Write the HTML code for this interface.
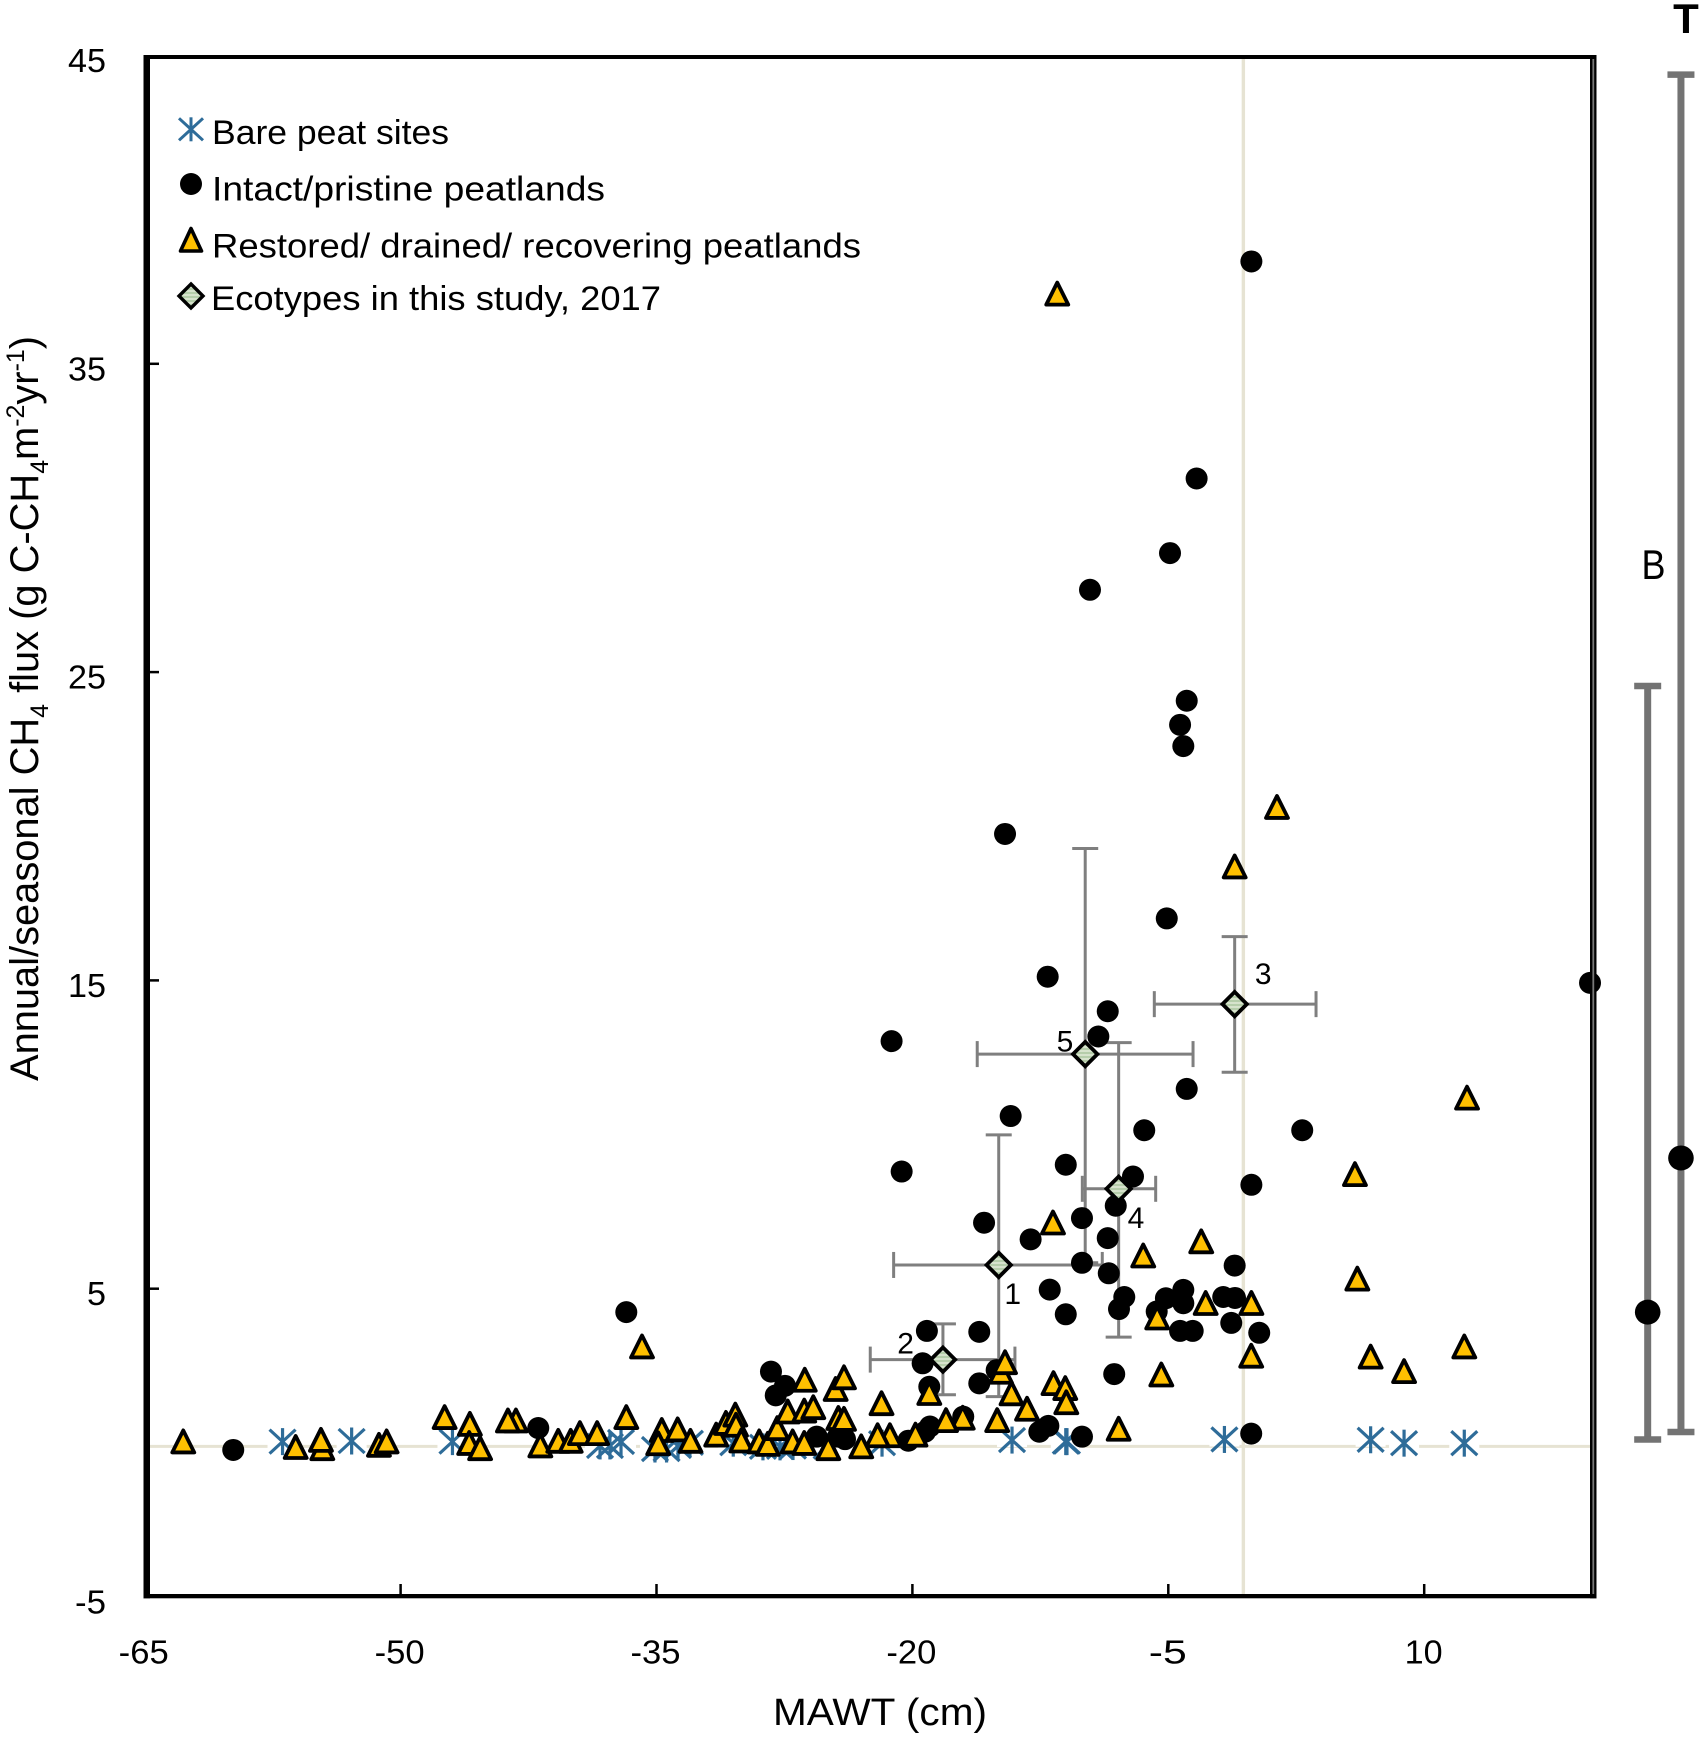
<!DOCTYPE html>
<html lang="en">
<head>
<meta charset="utf-8">
<title>CH4 flux vs MAWT</title>
<style>
html,body{margin:0;padding:0;background:#fff;}
svg{display:block;}
text{font-family:"Liberation Sans",sans-serif;fill:#000;}
</style>
</head>
<body>
<svg id="chart" xmlns="http://www.w3.org/2000/svg" width="1703" height="1739" viewBox="0 0 1703 1739">
  <defs>
    <pattern id="stripes" width="4" height="4" patternUnits="userSpaceOnUse">
      <rect width="4" height="4" fill="#d6e3cc"/>
      <rect width="4" height="2" fill="#b5cdaa"/>
    </pattern>
  </defs>
  <rect width="1703" height="1739" fill="#fff"/>
  <g id="guides"></g>
  <g id="stars"></g>
  <g id="errors"></g>
  <g id="circles"></g>
  <g id="triangles"></g>
  <g id="diamonds"></g>
  <g id="frame">
    <rect x="143.5" y="55" width="1453" height="4" fill="#000"/>
    <rect x="143.5" y="55" width="6.5" height="1543.3" fill="#000"/>
    <rect x="143.5" y="1594" width="1453" height="4.3" fill="#000"/>
    <rect x="1590" y="55" width="6.5" height="1543.3" fill="#000"/>
    <rect x="1592.4" y="59" width="1.8" height="1535" fill="#777"/>
  </g>
  <g id="xticks"></g>
  <g id="yticks"></g>
  <text x="773" y="1725" font-size="38" textLength="214" lengthAdjust="spacingAndGlyphs">MAWT (cm)</text>
  <text transform="translate(37.8,1081) rotate(-90)" font-size="40" textLength="745" lengthAdjust="spacingAndGlyphs">Annual/seasonal CH<tspan font-size="25" dy="10">4</tspan><tspan dy="-10"> flux (g C-CH</tspan><tspan font-size="25" dy="10">4</tspan><tspan dy="-10">m</tspan><tspan font-size="25" dy="-14">-2</tspan><tspan dy="14">yr</tspan><tspan font-size="25" dy="-14">-1</tspan><tspan dy="14">)</tspan></text>
  <g id="legend">
    <g>
      <g stroke="#2e6c99" stroke-width="3" fill="none" transform="translate(191,129.3)">
        <line x1="-12" y1="-11" x2="12" y2="11"/><line x1="-12" y1="11" x2="12" y2="-11"/><line x1="0" y1="-12" x2="0" y2="12"/>
      </g>
      <text x="212" y="144" font-size="34" textLength="237" lengthAdjust="spacingAndGlyphs">Bare peat sites</text>
    </g>
    <g>
      <circle cx="191" cy="184" r="11" fill="#000"/>
      <text x="212" y="200.7" font-size="34" textLength="393" lengthAdjust="spacingAndGlyphs">Intact/pristine peatlands</text>
    </g>
    <g>
      <polygon points="191,228.5 201.5,251 180.5,251" fill="#ffc000" stroke="#000" stroke-width="3.6" stroke-linejoin="round"/>
      <text x="212" y="257.3" font-size="34" textLength="649" lengthAdjust="spacingAndGlyphs">Restored/ drained/ recovering peatlands</text>
    </g>
    <g>
      <polygon points="191,284 203,296 191,308 179,296" fill="url(#stripes)" stroke="#000" stroke-width="3.4"/>
      <text x="211" y="310" font-size="34" textLength="450" lengthAdjust="spacingAndGlyphs">Ecotypes in this study, 2017</text>
    </g>
  </g>
  <g id="side"></g>
  <text x="1686" y="33" font-size="42" font-weight="bold" text-anchor="middle">T</text>
  <text x="1641.5" y="579" font-size="42" textLength="24" lengthAdjust="spacingAndGlyphs">B</text>
</svg>
<script>
const xTicks = [-65, -50, -35, -20, -5, 10];
const yTicks = [45, 35, 25, 15, 5, -5];
const zeroLineValue = -0.115;
const verticalLineValue = -0.6;

const bareX = [-56.92,-52.87,-46.96,-38.31,-37.73,-37.08,-35.09,-34.41,-33.74,-33.04,-30.50,-28.76,-27.76,-27.0,-25.03,-21.78,-14.16,-11.01,-10.94,-1.71,6.86,8.82,12.35];
const bareY = [0.04,0.06,0.04,-0.10,-0.10,0.03,-0.20,-0.20,-0.10,0,-0.01,-0.13,-0.13,-0.12,-0.12,-0.01,0.09,0.04,0.04,0.11,0.10,-0.01,-0.01];

const intactX = [-0.13,-3.34,-4.90,-9.59,-3.92,-4.31,-4.12,-14.57,-5.09,-12.07,-8.55,-21.22,-9.10,-3.92,-14.24,-6.41,2.85,-11.01,-20.63,-0.13,-7.07,-8.08,-15.80,-10.06,-13.07,-8.55,-10.06,-8.49,-1.11,-11.95,-7.58,-7.89,-11.01,-5.14,-4.12,-4.12,-5.68,-1.78,-1.09,-1.31,-4.31,-3.57,0.33,-19.15,-16.08,-19.40,-19.01,-16.08,-15.06,-8.17,-0.14,-10.06,-12.56,-12.03,-17.02,-18.97,-19.26,-20.24,-36.77,-28.29,-27.47,-28.01,-25.61,-24.36,-23.95,-59.81,-41.93,19.72];
const intactY = [38.32,31.28,28.86,27.67,24.07,23.29,22.60,19.75,17.01,15.12,14.00,13.03,13.18,11.48,10.60,10.14,10.14,9.02,8.80,8.37,8.64,7.69,7.14,7.29,6.60,6.64,5.84,5.50,5.75,4.97,4.73,4.34,4.17,4.69,4.96,4.53,4.26,4.73,4.70,3.89,3.63,3.63,3.57,3.63,3.60,2.58,1.82,1.93,2.36,2.23,0.30,0.20,0.36,0.55,0.85,0.53,0.36,0.07,4.24,2.31,1.85,1.54,0.20,0.20,0.12,-0.23,0.48,14.92];

const restoredX = [-11.51,1.37,-1.11,-11.76,-6.47,-3.07,-2.81,-0.13,-5.65,-0.14,-5.41,-14.81,-14.57,-11.73,-11.04,-10.98,-14.19,-13.28,-15.03,-7.91,-17.05,-18.03,-19.01,-21.81,-19.82,-21.32,-22.04,-23.00,12.51,5.94,6.08,6.86,8.82,12.35,-35.85,-36.77,-34.69,-33.76,-34.90,-33.01,-31.50,-30.93,-30.38,-30.34,-30.03,-28.98,-28.48,-27.92,-27.31,-26.34,-25.81,-26.31,-24.50,-24.01,-24.34,-24.01,-27.02,-26.34,-24.93,-62.74,-56.15,-54.59,-54.67,-51.27,-50.82,-47.42,-45.94,-45.98,-45.34,-43.24,-43.71,-41.81,-40.76,-40.03,-39.49,-38.48];
const restoredY = [37.27,20.62,18.69,7.14,6.07,6.53,4.53,4.53,4.06,2.82,2.21,2.30,2.61,1.93,1.77,1.31,1.60,1.10,0.73,0.45,0.81,0.73,1.61,1.28,0.26,0.24,0.24,-0.12,11.19,8.71,5.32,2.79,2.32,3.12,3.12,0.83,0.41,0.43,-0.02,0.06,0.26,0.64,0.91,0.58,0.07,0.04,-0.04,0.47,1.01,1.04,1.15,2.04,1.74,2.12,0.80,0.77,0.04,-0.01,-0.18,0.04,-0.14,-0.18,0.09,-0.07,0.04,0.83,0.61,-0.01,-0.18,0.72,0.72,-0.09,0.06,0.06,0.31,0.31];

const ecoLabels = ['1','2','3','4','5'];
const ecoX = [-14.94,-18.21,-1.11,-7.91,-9.87];
const ecoY = [5.77,2.70,14.23,8.24,12.61];
const ecoXLow = [-21.10,-22.47,-5.82,-10.04,-16.20];
const ecoXHigh = [-8.87,-13.99,3.66,-5.74,-3.55];
const ecoYLow = [1.50,1.56,12.02,3.43,5.84];
const ecoYHigh = [9.99,3.86,16.42,12.98,19.28];

const sideNames = ['bare','total'];
const sideX = [23.10,25.05];
const sideMean = [4.24,9.24];
const sideLow = [0.11,0.35];
const sideHigh = [24.55,44.38];

const NS = 'http://www.w3.org/2000/svg';
const sx = v => 144.7 + (v + 65) * 17.06;
const sy = v => 1288.7 + (5 - v) * 30.83;

function mk(tag, parent, attrs) {
  const el = document.createElementNS(NS, tag);
  for (const k in attrs) el.setAttribute(k, attrs[k]);
  parent.appendChild(el);
  return el;
}
const $ = id => document.getElementById(id);

/* reference lines */
{
  const h = mk('line', $('guides'), {x1:150, x2:1590, y1:sy(zeroLineValue), y2:sy(zeroLineValue), stroke:'#e6e3d3', 'stroke-width':3});
  
  
  const v = mk('line', $('guides'), {x1:sx(verticalLineValue), x2:sx(verticalLineValue), y1:59, y2:1594, stroke:'#e6e3d3', 'stroke-width':3.4});
  
  
}

/* x axis */
xTicks.forEach((t) => {
  if (t !== -65) {
    const tk = mk('line', $('xticks'), {x1:sx(t), x2:sx(t), y1:1584, y2:1594, stroke:'#000', 'stroke-width':2.5});
    
    
  }
  const s = String(t);
  const lab = mk('text', $('xticks'), {x:sx(t) - (s.length === 3 ? 25.5 : 19) - 0.5, y:1663.3, 'font-size':33, textLength:(s.length === 3 ? 50 : 38), lengthAdjust:'spacingAndGlyphs'});
  
  
  lab.textContent = s;
});

/* y axis */
yTicks.forEach((t) => {
  if (t !== -5 && t !== 45) {
    const tk = mk('line', $('yticks'), {x1:150, x2:159, y1:sy(t), y2:sy(t), stroke:'#000', 'stroke-width':2.5});
    
    
  }
  const s = String(t);
  const w = s.length === 1 ? 19 : (t < 0 ? 31 : 38);
  const lab = mk('text', $('yticks'), {x:106 - w, y:sy(t) + 16.5, 'font-size':33, textLength:w, lengthAdjust:'spacingAndGlyphs'});
  
  
  lab.textContent = s;
});

/* bare peat stars: white knock-outs first, then strokes */
bareX.forEach((x, i) => {
  const r = mk('rect', $('stars'), {x:sx(x) - 15, y:sy(bareY[i]) - 7, width:30, height:14, fill:'#fff'});
  
  
});
bareX.forEach((x, i) => {
  const g = mk('g', $('stars'), {transform:`translate(${sx(x)},${sy(bareY[i])})`, stroke:'#2e6c99', 'stroke-width':3.2, fill:'none'});
  
  
  mk('line', g, {x1:-13, y1:-12, x2:13, y2:12});
  mk('line', g, {x1:-13, y1:12, x2:13, y2:-12});
  mk('line', g, {x1:0, y1:-13.5, x2:0, y2:13.5});
});

/* ecotype error bars */
function errorCross(parent, x, y, xl, xh, yl, yh) {
  const st = {stroke:'#7f7f7f', 'stroke-width':3, fill:'none'};
  const capV = 13, capH = 13;
  const px = sx(x), py = sy(y), pxl = sx(xl), pxh = sx(xh), pyl = sy(yl), pyh = sy(yh);
  mk('line', parent, {x1:pxl, x2:pxh, y1:py, y2:py, ...st});
  mk('line', parent, {x1:pxl, x2:pxl, y1:py - capH, y2:py + capH, ...st});
  mk('line', parent, {x1:pxh, x2:pxh, y1:py - capH, y2:py + capH, ...st});
  mk('line', parent, {x1:px, x2:px, y1:pyl, y2:pyh, ...st});
  mk('line', parent, {x1:px - capV, x2:px + capV, y1:pyl, y2:pyl, ...st});
  mk('line', parent, {x1:px - capV, x2:px + capV, y1:pyh, y2:pyh, ...st});
}
ecoX.forEach((x, i) => {
  const g = mk('g', $('errors'), {});
  
  
  errorCross(g, x, ecoY[i], ecoXLow[i], ecoXHigh[i], ecoYLow[i], ecoYHigh[i]);
});

/* intact circles */
intactX.forEach((x, i) => {
  const c = mk('circle', $('circles'), {cx:sx(x), cy:sy(intactY[i]), r:11, fill:'#000'});
  
  
});

/* restored triangles */
restoredX.forEach((x, i) => {
  const px = sx(x), py = sy(restoredY[i]);
  const t = mk('polygon', $('triangles'), {points:`${px},${py - 11.2} ${px + 11},${py + 10.8} ${px - 11},${py + 10.8}`, fill:'#ffc000', stroke:'#000', 'stroke-width':3.8, 'stroke-linejoin':'round'});
  
  
});

/* ecotype diamonds and number labels */
const ecoLabelOffsetDx = [14, -37.3, 28.6, 17.3, -20.3];
const ecoLabelOffsetDy = [39, -6, -20, 39, -2.6];
ecoX.forEach((x, i) => {
  const px = sx(x), py = sy(ecoY[i]);
  const d = mk('polygon', $('diamonds'), {points:`${px},${py - 12.2} ${px + 12.2},${py} ${px},${py + 12.2} ${px - 12.2},${py}`, fill:'url(#stripes)', stroke:'#000', 'stroke-width':3.8});
  
  
  const l = mk('text', $('diamonds'), {x:px + ecoLabelOffsetDx[i], y:py + ecoLabelOffsetDy[i], 'font-size':30, 'text-anchor':'middle'});
  
  
  l.textContent = ecoLabels[i];
});

/* side range bars */
sideNames.forEach((n, i) => {
  const g = mk('g', $('side'), {});
  
  
  const px = sx(sideX[i]), lo = sy(sideLow[i]), hi = sy(sideHigh[i]);
  mk('line', g, {x1:px, x2:px, y1:hi, y2:lo, stroke:'#737373', 'stroke-width':7});
  mk('line', g, {x1:px - 13.5, x2:px + 13.5, y1:hi, y2:hi, stroke:'#737373', 'stroke-width':6.5});
  mk('line', g, {x1:px - 13.5, x2:px + 13.5, y1:lo, y2:lo, stroke:'#737373', 'stroke-width':6.5});
  mk('ellipse', g, {cx:px, cy:sy(sideMean[i]), rx:12.8, ry:12.5, fill:'#000'});
});
</script>
</body>
</html>
